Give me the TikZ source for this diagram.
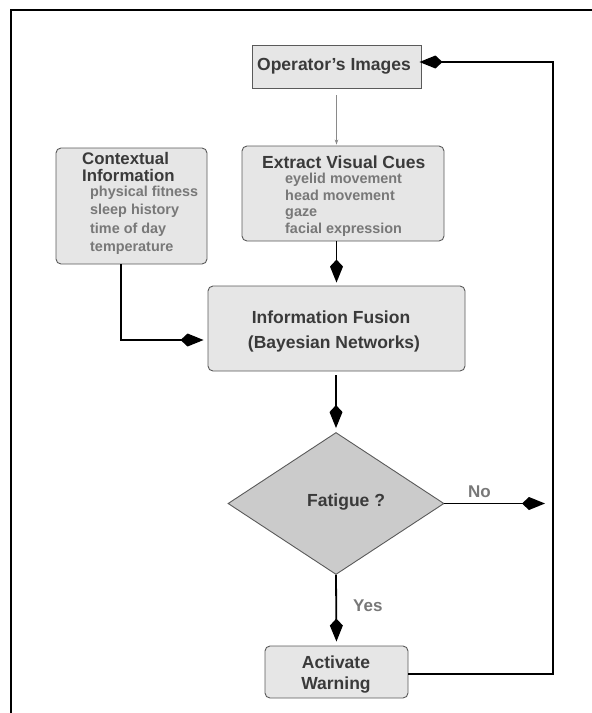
\documentclass[tikz,border=0pt]{standalone}
\usepackage{fontspec}
\setmainfont{Liberation Sans}
\usetikzlibrary{arrows.meta,shapes.geometric,calc}
\definecolor{boxfill}{HTML}{E6E6E6}
\definecolor{boxline}{HTML}{5A5A5A}
\definecolor{dfill}{HTML}{CBCBCB}
\definecolor{titlec}{HTML}{3A3A3A}
\definecolor{itemc}{HTML}{787878}
\definecolor{thinc}{HTML}{8A8A8A}
\begin{document}
\begin{tikzpicture}[x=1pt,y=-1pt,
  box/.style={draw=boxline,fill=boxfill,line width=0.9pt,inner sep=0pt},
  rbox/.style={box,rounded corners=5pt},
  title/.style={text=titlec,font=\fontsize{17.5}{17.5}\selectfont\bfseries,inner sep=0pt,anchor=base west},
  item/.style={text=itemc,font=\fontsize{14.4}{14.4}\selectfont\bfseries,inner sep=0pt,anchor=base west},
  lab/.style={text=itemc,font=\fontsize{17}{17}\selectfont\bfseries,inner sep=0pt,anchor=base west},
  conn/.style={line width=1.8pt,-{Kite[length=23pt,width=13pt,inset=7pt]}},
  thinarrow/.style={draw=thinc,line width=0.8pt,-{Stealth[length=5pt,width=3.5pt]}}
]
\useasboundingbox (0,0) rectangle (592,713);
% frame
\draw[line width=2pt] (10.5,713) -- (10.5,10) -- (592,10);

% boxes
\node[box,minimum width=169pt,minimum height=43pt] (oper) at (336.5,66.5) {};
\node[rbox,minimum width=202pt,minimum height=95pt] (extract) at (343,193.5) {};
\node[rbox,minimum width=151pt,minimum height=116pt] (context) at (131.5,206) {};
\node[rbox,minimum width=257pt,minimum height=85pt] (fusion) at (336.5,328.5) {};
\node[draw=boxline,fill=dfill,line width=0.9pt,diamond,inner sep=0pt,aspect=1.52,minimum width=216pt,minimum height=142pt] (fatigue) at (336,503.5) {};
\node[rbox,minimum width=143pt,minimum height=52pt] (warn) at (336.5,672) {};

% texts
\node[title,anchor=base] (operT) at (334,70) {Operator’s Images};

\node[title] (extT) at (262,168) {Extract Visual Cues};
\node[item] (ext1) at (285,183.5) {eyelid movement};
\node[item] (ext2) at (285,200.2) {head movement};
\node[item] (ext3) at (285,216.9) {gaze};
\node[item] (ext4) at (285,233.6) {facial expression};

\node[title,font=\fontsize{16.8}{16.8}\selectfont\bfseries] (ctxT1) at (82,164.5) {Contextual};
\node[title,font=\fontsize{16.8}{16.8}\selectfont\bfseries] (ctxT2) at (82,181.5) {Information};
\node[item] (ctx1) at (90,196.5) {physical fitness};
\node[item] (ctx2) at (90,214.8) {sleep history};
\node[item] (ctx3) at (90,233.2) {time of day};
\node[item] (ctx4) at (90,251.5) {temperature};

\node[title,anchor=base] (fusT1) at (331,323) {Information Fusion};
\node[title,anchor=base] (fusT2) at (334,348) {(Bayesian Networks)};

\node[title] (fatT) at (307,506) {Fatigue ?};

\node[title,anchor=base] (warnT1) at (336,668) {Activate};
\node[title,anchor=base] (warnT2) at (336,689) {Warning};

\node[lab] (noL) at (468,497) {No};
\node[lab] (yesL) at (353,611) {Yes};

% connectors
\coordinate (noEnd) at (545,503.5);
\coordinate (fbBot) at (553,674);
\coordinate (fbTop) at (553,62);
\coordinate (ctxTurn) at (121,340);

\draw[thinarrow] ([yshift=-7pt]oper.south) -- ([yshift=1pt]extract.north -| oper.south);
\draw[conn,shorten >=3pt] (extract.south -| oper.south) -- (fusion.north -| oper.south);
\draw[conn,shorten >=4pt] (context.south -| ctxTurn) -- (ctxTurn) -- (fusion.west |- ctxTurn);
\draw[conn,shorten >=4pt] ([yshift=-4pt]fusion.south -| fatigue.north) -- (fatigue.north);
\draw[conn] (fatigue.east) -- (noEnd);
\draw[conn,shorten >=4pt] (fatigue.south) -- (warn.north);
\draw[conn,shorten >=-2pt] (warn.east |- fbBot) -- (fbBot) -- (fbTop) -- (oper.east |- fbTop);
\end{tikzpicture}
\end{document}
